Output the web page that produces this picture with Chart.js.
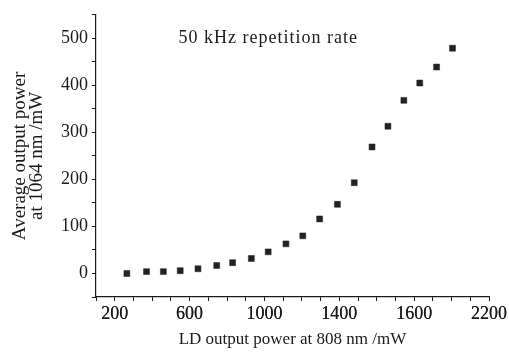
<!DOCTYPE html>
<html>
<head>
<meta charset="utf-8">
<script src="https://cdn.jsdelivr.net/npm/chart.js@4"></script>
<style>
    html, body { margin: 0; padding: 0; background: #fff; }
    #wrap { width: 509px; height: 353px; }
</style>
</head>
<body>
<div id="wrap"><canvas id="chart" width="509" height="353"></canvas></div>
<script>
// LD pump power (mW) and average 1064 nm output (mW)
const ldPower = [265, 370, 460, 550, 645, 745, 830, 930, 1020, 1115, 1205, 1295, 1390, 1480, 1575, 1660, 1745, 1830, 1920, 2005];
const outPower = [0, 4, 4, 6, 10, 17, 23, 32, 46, 63, 80, 116, 147, 193, 269, 313, 368, 405, 439, 479];

// tick labels as printed on the figure
const xTickValues = [200, 600, 1000, 1400, 1800, 2200];
const xTickLabels = ['200', '600', '1000', '1400', '1600', '2200'];
const yTickValues = [0, 100, 200, 300, 400, 500];

const note = { text: '50 kHz repetition rate', x: 1020, y: 500 };

const serif = '"Liberation Serif", "DejaVu Serif", serif';
const ink = '#1a1a1a';

// note text; x tick labels drawn again on top of the scale's own ones
const textPlugin = {
    id: 'texts',
    afterDraw(chart) {
        const ctx = chart.ctx;
        const xs = chart.scales.x, ys = chart.scales.y;
        ctx.save();
        ctx.fillStyle = ink;
        xs.getLabelItems().forEach(it => {
            if (!it.label) return;
            ctx.font = it.font.string;
            ctx.textAlign = it.options.textAlign;
            ctx.textBaseline = it.options.textBaseline;
            ctx.fillText(it.label, it.options.translation[0], it.options.translation[1] + it.textOffset);
        });

        ctx.font = '18px ' + serif;
        ctx.letterSpacing = '1px';
        ctx.textAlign = 'center';
        ctx.textBaseline = 'middle';
        ctx.fillText(note.text, xs.getPixelForValue(note.x), ys.getPixelForValue(note.y));
        ctx.restore();
    }
};

new Chart(document.getElementById('chart'), {
    type: 'scatter',
    data: {
        datasets: [{
            data: ldPower.map((x, i) => ({ x, y: outPower[i] })),
            pointStyle: 'rect',
            pointRadius: 4.2,
            pointBackgroundColor: '#222',
            pointBorderColor: '#222',
            pointBorderWidth: 0.5
        }]
    },
    options: {
        responsive: false,
        animation: false,
        layout: { padding: { top: 10, right: 20, left: 0, bottom: 0 } },
        plugins: { legend: { display: false }, tooltip: { enabled: false } },
        scales: {
            x: {
                type: 'linear',
                min: 100,
                max: 2200,
                afterFit: s => { s.height = 56; },
                border: { color: ink, width: 1.2 },
                grid: { drawOnChartArea: false, tickLength: 4, tickColor: ink },
                ticks: {
                    stepSize: 100,
                    autoSkip: false,
                    maxRotation: 0,
                    padding: 2,
                    color: ink,
                    font: { family: serif, size: 18 },
                    callback: v => {
                        const i = xTickValues.indexOf(Math.round(v));
                        return i < 0 ? '' : xTickLabels[i];
                    }
                },
                title: {
                    display: true,
                    text: 'LD output power at 808 nm /mW',
                    color: ink,
                    font: { family: serif, size: 17 },
                    padding: { top: 0, bottom: 3 }
                }
            },
            y: {
                min: -50,
                max: 550,
                afterFit: s => { s.width = 96; },
                border: { color: ink, width: 1.2 },
                grid: { drawOnChartArea: false, tickLength: 4, tickColor: ink },
                ticks: {
                    stepSize: 50,
                    autoSkip: false,
                    padding: 4,
                    color: ink,
                    font: { family: serif, size: 18 },
                    callback: v => yTickValues.includes(Math.round(v)) ? String(Math.round(v)) : ''
                },
                title: {
                    display: true,
                    text: ['Average output power', 'at 1064 nm /mW'],
                    color: ink,
                    font: { family: serif, size: 19, lineHeight: 0.9 },
                    padding: { top: 11, bottom: 0 }
                }
            }
        }
    },
    plugins: [textPlugin]
});
</script>
</body>
</html>
